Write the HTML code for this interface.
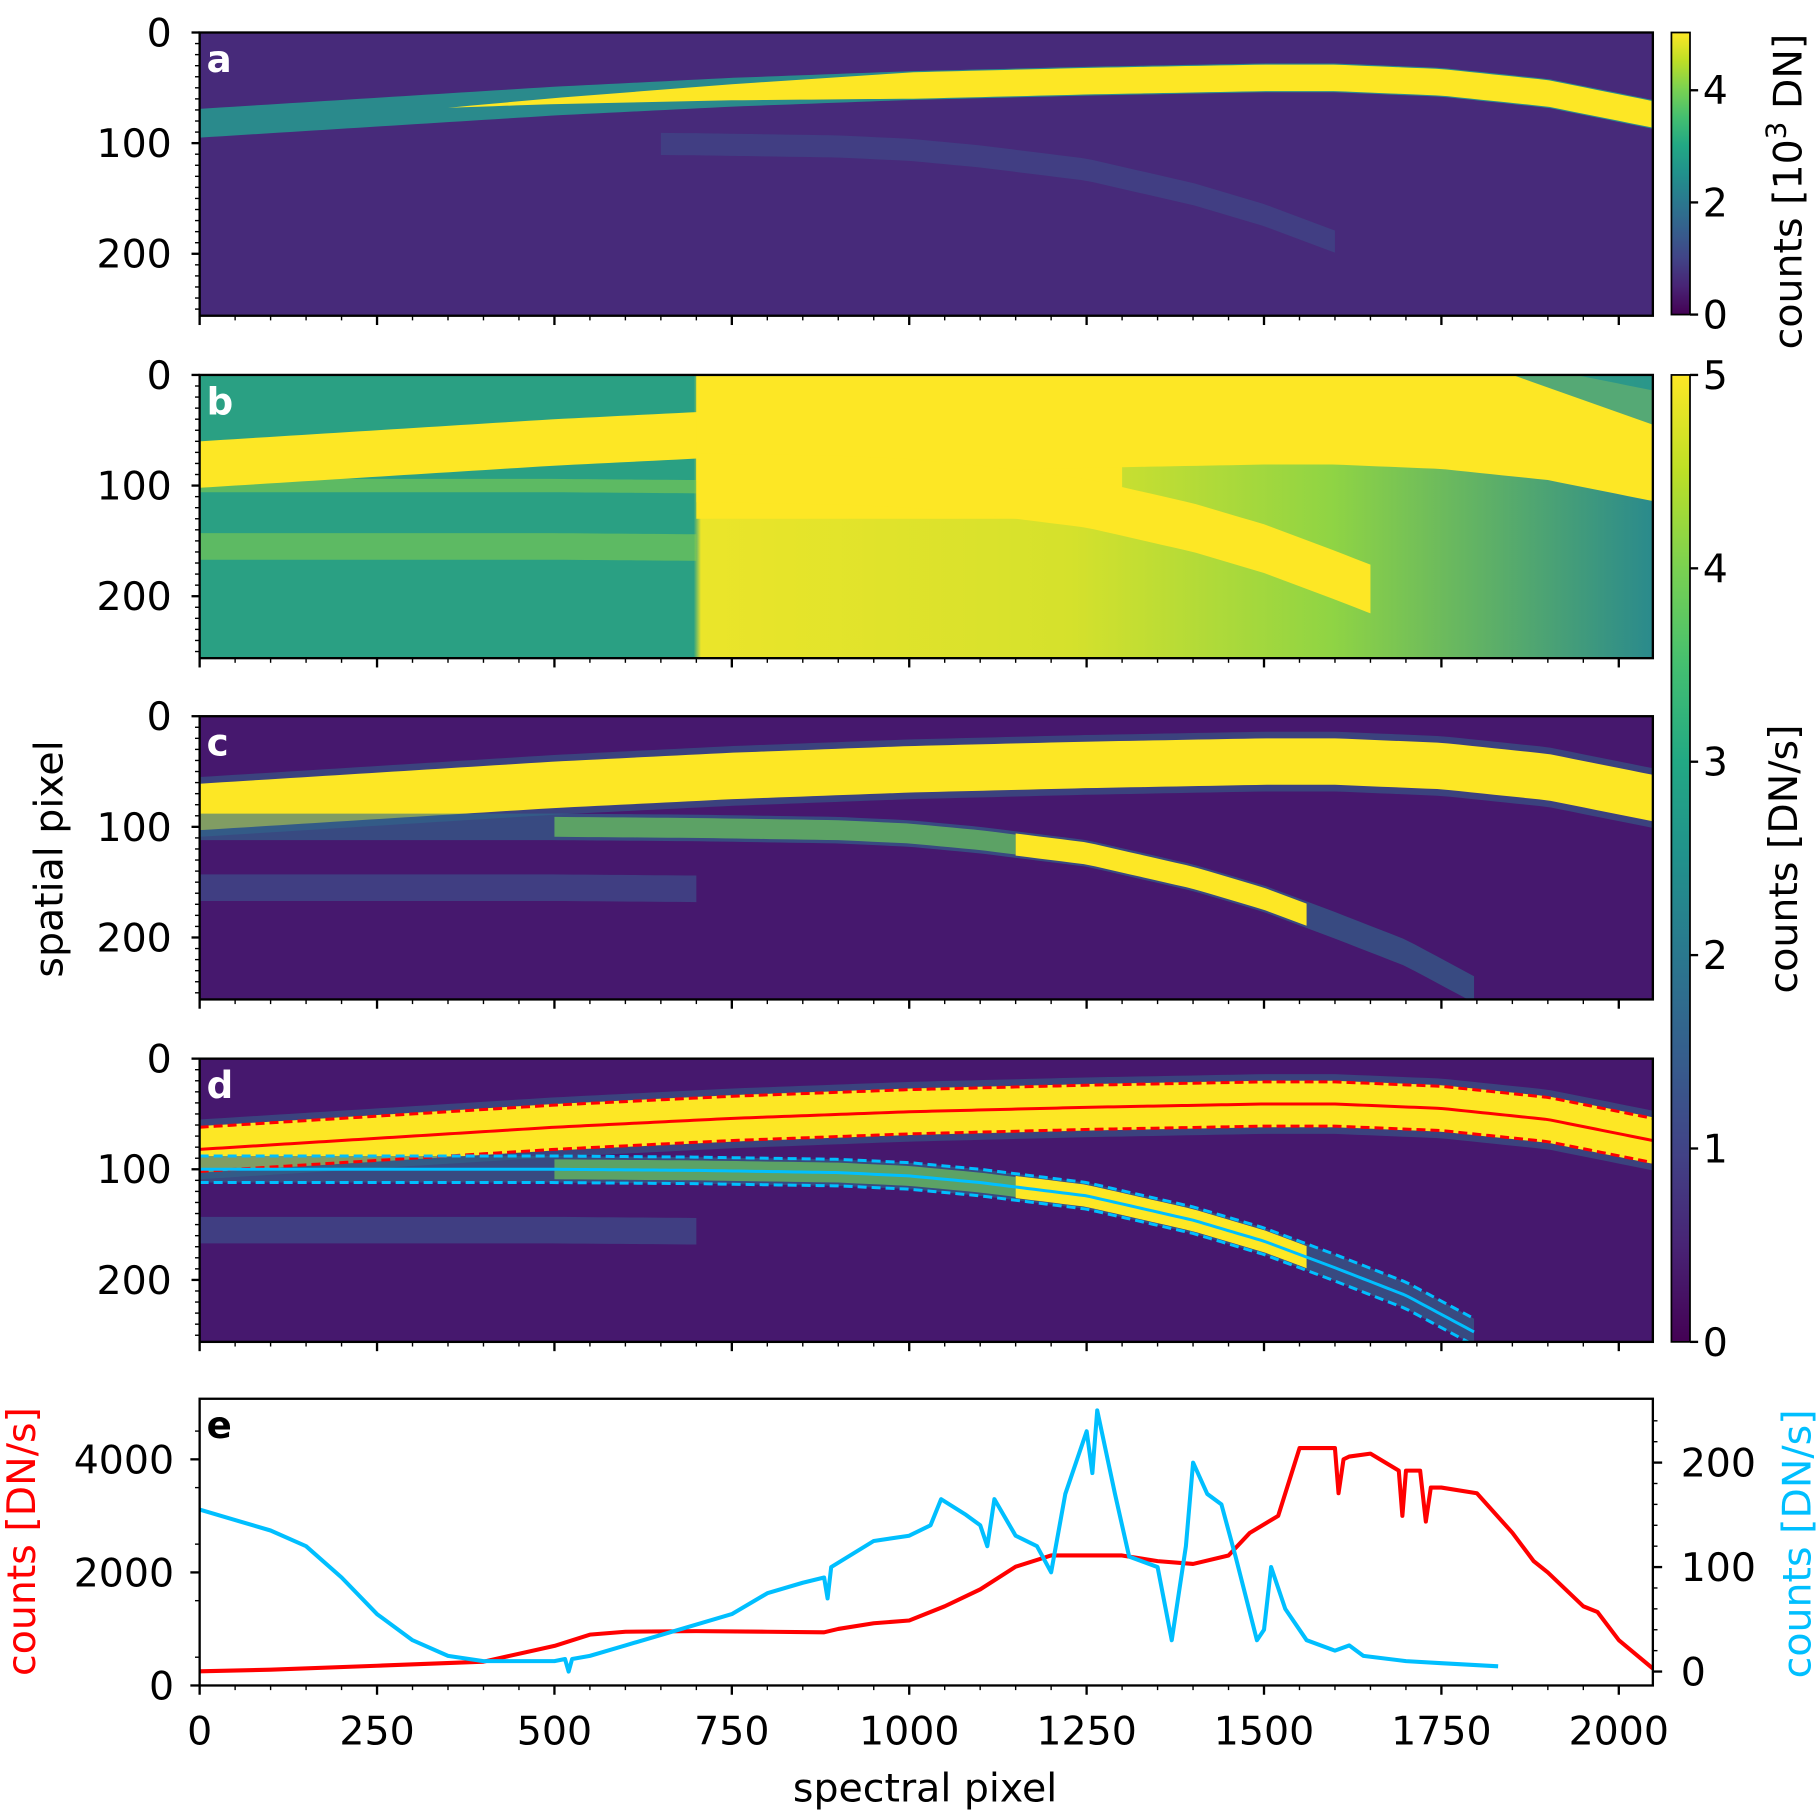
<!DOCTYPE html>
<html><head><meta charset="utf-8">
<style>
html,body{margin:0;padding:0;background:#fff;}
svg{display:block;font-family:"DejaVu Sans","Liberation Sans",sans-serif;}
</style></head>
<body>
<svg id="fig" xmlns="http://www.w3.org/2000/svg" width="1820" height="1812" viewBox="0 0 1568 1561" preserveAspectRatio="none">
<defs>
<linearGradient id="vir" x1="0" y1="1" x2="0" y2="0">
<stop offset="0" stop-color="#440154"/><stop offset="0.1" stop-color="#482475"/><stop offset="0.2" stop-color="#414487"/><stop offset="0.3" stop-color="#355f8d"/><stop offset="0.4" stop-color="#2a788e"/><stop offset="0.5" stop-color="#21918c"/><stop offset="0.6" stop-color="#22a884"/><stop offset="0.7" stop-color="#44bf70"/><stop offset="0.8" stop-color="#7ad151"/><stop offset="0.9" stop-color="#bddf26"/><stop offset="1" stop-color="#fde725"/>
</linearGradient>
<linearGradient id="bgB" x1="0" y1="0" x2="1" y2="0">
<stop offset="0" stop-color="#2aa083"/><stop offset="0.34" stop-color="#2aa083"/><stop offset="0.345" stop-color="#ebe52a"/><stop offset="0.6" stop-color="#d5e12c"/><stop offset="0.78" stop-color="#8fd444"/><stop offset="1" stop-color="#2a8a8c"/>
</linearGradient>
<clipPath id="clipImg"><rect x="0" y="0" width="2048" height="256"/></clipPath>
</defs>
<g id="root"></g>
</svg>
<script>
// ---- data ----
const specX = [0,250,500,750,1000,1250,1500,1600,1750,1900,2048];
const mainCenter = [82,72,62,54,48,44,41,41,45,55,74];
const secX = [0,250,500,700,900,1000,1100,1250,1400,1500,1600,1700,1796];
const secCenter = [100,100,100,101,103,106,112,124,146,165,189,214,247];
const redX = [0,100,250,400,500,550,600,700,800,880,900,950,1000,1050,1100,1150,1200,1300,1350,1400,1450,1480,1520,1550,1600,1605,1612,1620,1650,1690,1695,1700,1720,1728,1735,1750,1800,1850,1880,1900,1950,1970,2000,2048];
const redVals = [250,280,350,420,700,900,950,960,950,940,1000,1100,1150,1400,1700,2100,2300,2300,2200,2150,2300,2700,3000,4200,4200,3400,4000,4050,4100,3800,3000,3800,3800,2900,3500,3500,3400,2700,2200,2000,1400,1300,800,300];
const blueX = [0,50,100,150,200,250,300,350,400,500,515,520,525,550,600,700,750,800,850,880,885,890,950,1000,1030,1045,1080,1100,1110,1120,1150,1180,1200,1220,1250,1258,1265,1290,1310,1350,1370,1390,1400,1420,1440,1460,1490,1500,1510,1530,1560,1600,1620,1640,1700,1750,1830];
const blueVals = [155,145,135,120,90,55,30,15,10,10,12,0,12,15,25,45,55,75,85,90,70,100,125,130,140,165,150,140,120,165,130,120,95,170,230,190,250,170,110,100,30,120,200,170,160,110,30,40,100,60,30,20,25,15,10,8,5];
const xTicks = [0,250,500,750,1000,1250,1500,1750,2000];
const yTicks = [0,100,200];
const eLeftTicks = [0,2000,4000];
const eRightTicks = [0,100,200];
const cbTopTicks = [0,2,4];
const cbBotTicks = [0,1,2,3,4,5];

// ---- layout ----
const NS="http://www.w3.org/2000/svg";
const root=document.getElementById('root');
const X0=172,X1=1424;
const sx=v=>X0+v*(X1-X0)/2048;
const panels=[{k:'a',top:28},{k:'b',top:323},{k:'c',top:617},{k:'d',top:912}];
const PH=244;
function el(tag,attrs,parent,text){const e=document.createElementNS(NS,tag);for(const k in attrs)e.setAttribute(k,attrs[k]);if(text!==undefined)e.textContent=text;(parent||root).appendChild(e);return e;}
function interp(xs,ys,x){for(let i=0;i<xs.length-1;i++){if(x<=xs[i+1]){const t=(x-xs[i])/(xs[i+1]-xs[i]);return ys[i]+t*(ys[i+1]-ys[i]);}}return ys[ys.length-1];}
function bandPath(xs,ys,off1,off2,xmax,xmin){xmin=xmin||0;let up=[],dn=[];for(let x=xmin;x<=xmax;x+=16){const c=interp(xs,ys,x);up.push(x+','+(c+off1));dn.unshift(x+','+(c+off2));}
 const c=interp(xs,ys,xmax);up.push(xmax+','+(c+off1));dn.unshift(xmax+','+(c+off2));return 'M'+up.join(' L')+' L'+dn.join(' L')+'Z';}
function linePath(xs,ys,off,xmax){let p=[];for(let x=0;x<=xmax;x+=8){p.push(x+','+(interp(xs,ys,x)+off));}p.push(xmax+','+(interp(xs,ys,xmax)+off));return 'M'+p.join(' L');}

panels.forEach(p=>{
  const g=el('g',{transform:`translate(${X0},${p.top}) scale(${(X1-X0)/2048},${PH/256})`});
  
  
  const inner=el('g',{'clip-path':'url(#clipImg)'},g);
  if(p.k==='a'){
    el('rect',{x:0,y:0,width:2048,height:256,fill:'#472a7a'},inner);
    el('path',{d:bandPath(secX,secCenter,-10,10,1600,650),fill:'#3d4f8a',opacity:0.55},inner);
    el('path',{d:bandPath(specX,mainCenter,-13,13,2048),fill:'#2a8a8c'},inner);
    el('path',{d:'M'+(()=>{let u=[],d=[];for(let x=350;x<=2048;x+=16){const c=interp(specX,mainCenter,x);const w=Math.min(12,(x-350)/55);u.push(x+','+(c-w));d.unshift(x+','+(c+w));}return u.join(' L')+' L'+d.join(' L');})()+'Z',fill:'#fde725'},inner);
  } else if(p.k==='b'){
    el('rect',{x:0,y:0,width:2048,height:256,fill:'url(#bgB)'},inner);
    el('path',{d:bandPath(secX,secCenter.map(v=>v+55),-12,12,700),fill:'#8fd444',opacity:0.5},inner);
    el('path',{d:bandPath(secX,secCenter,-6,6,700),fill:'#8fd444',opacity:0.5},inner);
    el('path',{d:bandPath(specX,mainCenter,-22,20,720),fill:'#fde725'},inner);
    el('rect',{x:700,y:0,width:600,height:130,fill:'#fde725'},inner);
    el('path',{d:bandPath(specX,mainCenter,-60,40,2048,700),fill:'#fde725'},inner);
    el('path',{d:bandPath(secX,secCenter,-30,14,1650,700),fill:'#fde725'},inner);
    el('path',{d:'M1850,0 L2048,0 L2048,45 Z',fill:'#2a9a8a',opacity:0.8},inner);
  } else {
    el('rect',{x:0,y:0,width:2048,height:256,fill:'#46186e'},inner);
    el('path',{d:bandPath(secX,secCenter.map(v=>v+55),-12,12,700),fill:'#3d4e8a',opacity:0.7},inner);
    el('path',{d:bandPath(specX,mainCenter,-27,27,2048),fill:'#2f6c8e',opacity:0.5},inner);
    el('path',{d:bandPath(specX,mainCenter,-21,21,2048),fill:'#fde725'},inner);
    el('path',{d:bandPath(secX,secCenter,-12,12,1796),fill:'#2f6c8e',opacity:0.6},inner);
    el('path',{d:bandPath(secX,secCenter,-9,9,1150,500),fill:'#6cc85a',opacity:0.7},inner);
    el('path',{d:bandPath(secX,secCenter,-10,10,1560,1150),fill:'#fde725'},inner);
    if(p.k==='d'){
      const r1=el('path',{d:linePath(specX,mainCenter,0,2048),fill:'none',stroke:'#ff0000','stroke-width':3,'vector-effect':'non-scaling-stroke'},inner);
      
      [-20,20].forEach(o=>{const l=el('path',{d:linePath(specX,mainCenter,o,2048),fill:'none',stroke:'#ff0000','stroke-width':3,'stroke-dasharray':'9 5','vector-effect':'non-scaling-stroke'},inner);
        });
      const b1=el('path',{d:linePath(secX,secCenter,0,1796),fill:'none',stroke:'#00bfff','stroke-width':3,'vector-effect':'non-scaling-stroke'},inner);
      
      [-12,12].forEach(o=>{const l=el('path',{d:linePath(secX,secCenter,o,1796),fill:'none',stroke:'#00bfff','stroke-width':3,'stroke-dasharray':'9 5','vector-effect':'non-scaling-stroke'},inner);
        });
    }
  }
  const fr=el('rect',{x:X0,y:p.top,width:X1-X0,height:PH,fill:'none',stroke:'#000','stroke-width':2});
  
  const lab=el('text',{x:178,y:p.top+34,'font-size':32,'font-weight':'bold',fill:'#fff'},root,p.k);
  
  const sy=v=>p.top+v*PH/256;
  yTicks.forEach(t=>{el('line',{x1:X0-7,x2:X0,y1:sy(t),y2:sy(t),stroke:'#000','stroke-width':2});
    const tx=el('text',{x:148,y:sy(t)+12,'font-size':34,'text-anchor':'end'},root,String(t));
    });
  for(let t=0;t<=256;t+=10){if(t%100)el('line',{x1:X0-4,x2:X0,y1:sy(t),y2:sy(t),stroke:'#000','stroke-width':1.2});}
  for(let t=0;t<=2048;t+=50){const maj=t%250===0;el('line',{x1:sx(t),x2:sx(t),y1:p.top+PH,y2:p.top+PH+(maj?8:4),stroke:'#000','stroke-width':maj?2:1.2});}
});

// ---- panel e ----
const ET=1205,EB=1452;
const eyL=v=>EB-v*0.0487;
const eyR=v=>1440-v*0.9;
const eg=el('g',{});
function series(xs,ys,fy,color,name){let d='';xs.forEach((x,i)=>{d+=(i?'L':'M')+sx(x).toFixed(1)+','+fy(ys[i]).toFixed(1);});
  const p=el('path',{d:d,fill:'none',stroke:color,'stroke-width':3.5,'stroke-linejoin':'round'},eg);
  }
series(redX,redVals,eyL,'#ff0000','main-order-spectrum');
series(blueX,blueVals,eyR,'#00bfff','second-order-spectrum');
const efr=el('rect',{x:X0,y:ET,width:X1-X0,height:EB-ET,fill:'none',stroke:'#000','stroke-width':2});

const el_=el('text',{x:178,y:ET+34,'font-size':32,'font-weight':'bold',fill:'#000'},root,'e');

xTicks.forEach(t=>{const tx=el('text',{x:sx(t),y:1503,'font-size':34,'text-anchor':'middle'},root,String(t));
  });
for(let t=0;t<=2048;t+=50){const maj=t%250===0;el('line',{x1:sx(t),x2:sx(t),y1:EB,y2:EB+(maj?8:4),stroke:'#000','stroke-width':maj?2:1.2});}
eLeftTicks.forEach(t=>{el('line',{x1:X0-8,x2:X0,y1:eyL(t),y2:eyL(t),stroke:'#000','stroke-width':2});
  const tx=el('text',{x:150,y:eyL(t)+12,'font-size':34,'text-anchor':'end'},root,String(t));
  });
for(let t=500;t<5000;t+=1000)el('line',{x1:X0-4,x2:X0,y1:eyL(t),y2:eyL(t),stroke:'#000','stroke-width':1.2});
eRightTicks.forEach(t=>{el('line',{x1:X1,x2:X1+8,y1:eyR(t),y2:eyR(t),stroke:'#000','stroke-width':2});
  const tx=el('text',{x:1448,y:eyR(t)+12,'font-size':34},root,String(t));
  });
for(let t=20;t<260;t+=20){if(t%100)el('line',{x1:X1,x2:X1+4,y1:eyR(t),y2:eyR(t),stroke:'#000','stroke-width':1.2});}

// ---- colorbars ----
function cbar(top,bot,ticks,max,name){
  const r=el('rect',{x:1440,y:top,width:16,height:bot-top,fill:'url(#vir)',stroke:'#000','stroke-width':1.5});
  
  ticks.forEach(t=>{const y=bot-t*(bot-top)/max;el('line',{x1:1456,x2:1463,y1:y,y2:y,stroke:'#000','stroke-width':2});
    const tx=el('text',{x:1467,y:y+12,'font-size':34},root,String(t));
    });
}
cbar(28,271,cbTopTicks,5.03,'colorbar-raw');
cbar(323,1156,cbBotTicks,5,'colorbar-rate');

// ---- axis titles ----
function rot(x,y,color,name){const t=el('text',{x:x,y:y,'font-size':34,'text-anchor':'middle',fill:color,transform:`rotate(-90 ${x} ${y})`},root);
  return t;}
const ct=rot(1552,165,'#000','colorbar-raw-title');ct.innerHTML='counts [10<tspan baseline-shift="super" font-size="24">3</tspan> DN]';
rot(1548,740,'#000','colorbar-rate-title').textContent='counts [DN/s]';
rot(54,740,'#000','y-axis-title').textContent='spatial pixel';
rot(30,1328,'#ff0000','left-y-axis-title').textContent='counts [DN/s]';
rot(1560,1330,'#00bfff','right-y-axis-title').textContent='counts [DN/s]';
const xt=el('text',{x:797,y:1552,'font-size':34,'text-anchor':'middle'},root,'spectral pixel');

</script>
</body></html>
